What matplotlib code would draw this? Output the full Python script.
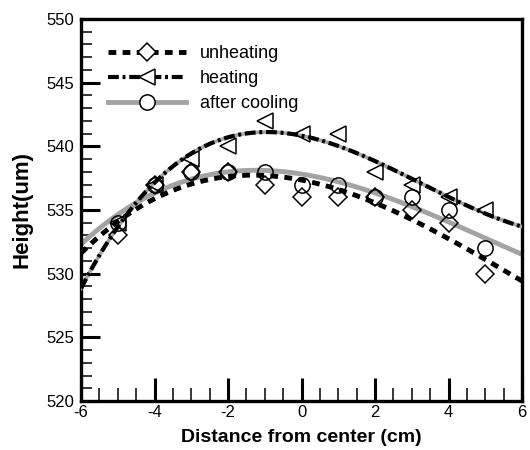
import numpy as np
import matplotlib
matplotlib.use("Agg")
import matplotlib.pyplot as plt
from matplotlib.ticker import MultipleLocator
from matplotlib.lines import Line2D

plt.rcParams['font.family'] = ['Liberation Sans', 'DejaVu Sans']
plt.rcParams['axes.unicode_minus'] = False

x = [-5, -4, -3, -2, -1, 0, 1, 2, 3, 4, 5]
unheating = [533, 537, 538, 538, 537, 536, 536, 536, 535, 534, 530]
heating = [534, 537, 539, 540, 542, 541, 541, 538, 537, 536, 535]
after_cooling = [534, 537, 538, 538, 538, 537, 537, 536, 536, 535, 532]
labels = ['unheating', 'heating', 'after cooling']
fit_degree = 3

fig = plt.figure(figsize=(5.3, 4.5), dpi=100)
ax = fig.add_axes([81/530, 1-401/450, (522-81)/530, (401-19)/450])

xs = np.linspace(-6, 6, 300)
def fit(y):
    c = np.polyfit(x, y, fit_degree)
    return np.polyval(c, xs)

GRAY = '#a3a3a3'
UN_LS = (0, (1.6, 1.3))
HE_LS = (0, (2.6, 0.9, 0.7, 0.9))

# after cooling: gray thick
ax.plot(xs, fit(after_cooling), color=GRAY, lw=3.5, zorder=2)
# heating: gray underlay + black dash-dot
ax.plot(xs, fit(heating), color=GRAY, lw=2.6, zorder=3)
ax.plot(xs, fit(heating), color='black', lw=3, ls=HE_LS, zorder=3)
# unheating: black dashes
ax.plot(xs, fit(unheating), color='black', lw=3.5, ls=UN_LS, zorder=4)

ms_kw = dict(ls='none', mfc='none', mec='black', mew=1.1, zorder=5)
ax.plot(x, unheating, marker='D', ms=9.5, **ms_kw)
ax.plot(x, heating, marker='<', ms=11, **ms_kw)
ax.plot(x, after_cooling, marker='o', ms=11, **ms_kw)

# legend proxies
h1 = Line2D([], [], color='black', lw=3.5, ls=UN_LS, marker='D', ms=9.5,
            mfc='white', mec='black', mew=1.1)
h2 = Line2D([], [], color='black', lw=3, ls=HE_LS, marker='<', ms=11,
            mfc='white', mec='black', mew=1.1)
h3 = Line2D([], [], color=GRAY, lw=3.5, marker='o', ms=11,
            mfc='white', mec='black', mew=1.1)
ax.legend([h1, h2, h3], labels,
          loc='upper left', bbox_to_anchor=(0.062, 0.932), frameon=False,
          fontsize=13, handlelength=4.3, handletextpad=0.75, labelspacing=0.45,
          numpoints=1, borderaxespad=0, borderpad=0)

ax.set_xlim(-6, 6)
ax.set_ylim(520, 550)
ax.xaxis.set_major_locator(MultipleLocator(2))
ax.xaxis.set_minor_locator(MultipleLocator(0.5))
ax.yaxis.set_major_locator(MultipleLocator(5))
ax.yaxis.set_minor_locator(MultipleLocator(1))

ax.tick_params(axis='both', which='both', direction='in', top=False, right=False)
ax.tick_params(axis='y', which='major', length=14, width=2.2, labelsize=12, pad=5)
ax.tick_params(axis='y', which='minor', length=8, width=1.1)
ax.tick_params(axis='x', which='major', length=16.5, width=2.2, labelsize=12, pad=3)
ax.tick_params(axis='x', which='minor', length=9.5, width=1.1)
for s in ax.spines.values():
    s.set_linewidth(2.4)

ax.set_xlabel('Distance from center (cm)', fontsize=14, fontweight='bold', labelpad=6)
ax.set_ylabel('Height(um)', fontsize=16, fontweight='bold', labelpad=10)

fig.savefig('out.png', dpi=100)
